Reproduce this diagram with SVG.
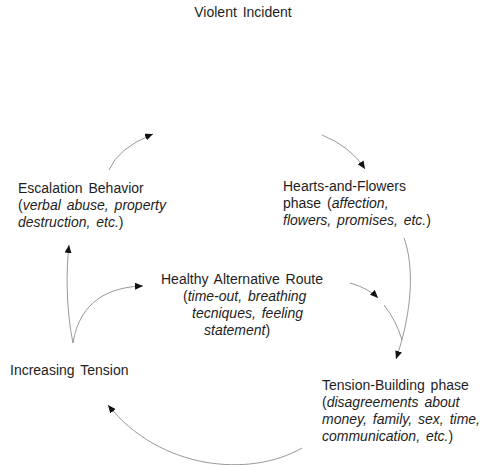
<svg xmlns="http://www.w3.org/2000/svg" width="487" height="465" viewBox="0 0 487 465">
<style>
text{font-family:"Liberation Sans",Arial,Helvetica,sans-serif;font-size:14px;fill:#1e1e1e;word-spacing:2px}
.i{font-style:italic}
.c{fill:none;stroke:#8c8c8c;stroke-width:0.9}
.a{marker-end:url(#ah)}
</style>
<defs>
<marker id="ah" markerUnits="userSpaceOnUse" markerWidth="9" markerHeight="7" refX="8" refY="3.5" orient="auto">
<path d="M0,0 L8,3.5 L0,7 z" fill="#111"/>
</marker>
</defs>
<rect width="487" height="465" fill="#fff"/>
<g id="connectors">
<path class="c a" d="M109,170 Q118,148 153,134"/>
<path class="c a" d="M322,135 Q350,146 365,169"/>
<path class="c a" d="M404,238 C414,265 413,310 396,359"/>
<path class="c a" d="M350,283 Q368,288 378,298"/>
<path class="c" d="M384,305 Q396,320 402,340"/>
<path class="c a" d="M302,448 C250,478 160,470 108,405"/>
<path class="c a" d="M73,343 C66,310 66,270 69,245"/>
<path class="c a" d="M73,343 C80,300 110,287 143,286"/>
</g>
<g id="violent-incident">
<text x="243" y="17" text-anchor="middle">Violent Incident</text>
</g>
<g id="escalation-behavior">
<text x="18" y="193">Escalation Behavior</text>
<text x="18" y="210">(<tspan class="i">verbal abuse, property</tspan></text>
<text x="18" y="227"><tspan class="i">destruction, etc.</tspan>)</text>
</g>
<g id="hearts-and-flowers">
<text x="283" y="191">Hearts-and-Flowers</text>
<text x="283" y="208">phase (<tspan class="i">affection,</tspan></text>
<text x="283" y="225"><tspan class="i">flowers, promises, etc.</tspan>)</text>
</g>
<g id="healthy-alternative-route">
<text x="161" y="284">Healthy Alternative Route</text>
<text x="183" y="301">(<tspan class="i">time-out, breathing</tspan></text>
<text x="192" y="318"><tspan class="i">tecniques, feeling</tspan></text>
<text x="204" y="335"><tspan class="i">statement</tspan>)</text>
</g>
<g id="increasing-tension">
<text x="10" y="375">Increasing Tension</text>
</g>
<g id="tension-building">
<text x="322" y="390">Tension-Building phase</text>
<text x="322" y="407">(<tspan class="i">disagreements about</tspan></text>
<text x="322" y="424"><tspan class="i">money, family, sex, time,</tspan></text>
<text x="322" y="441"><tspan class="i">communication, etc.</tspan>)</text>
</g>
</svg>
